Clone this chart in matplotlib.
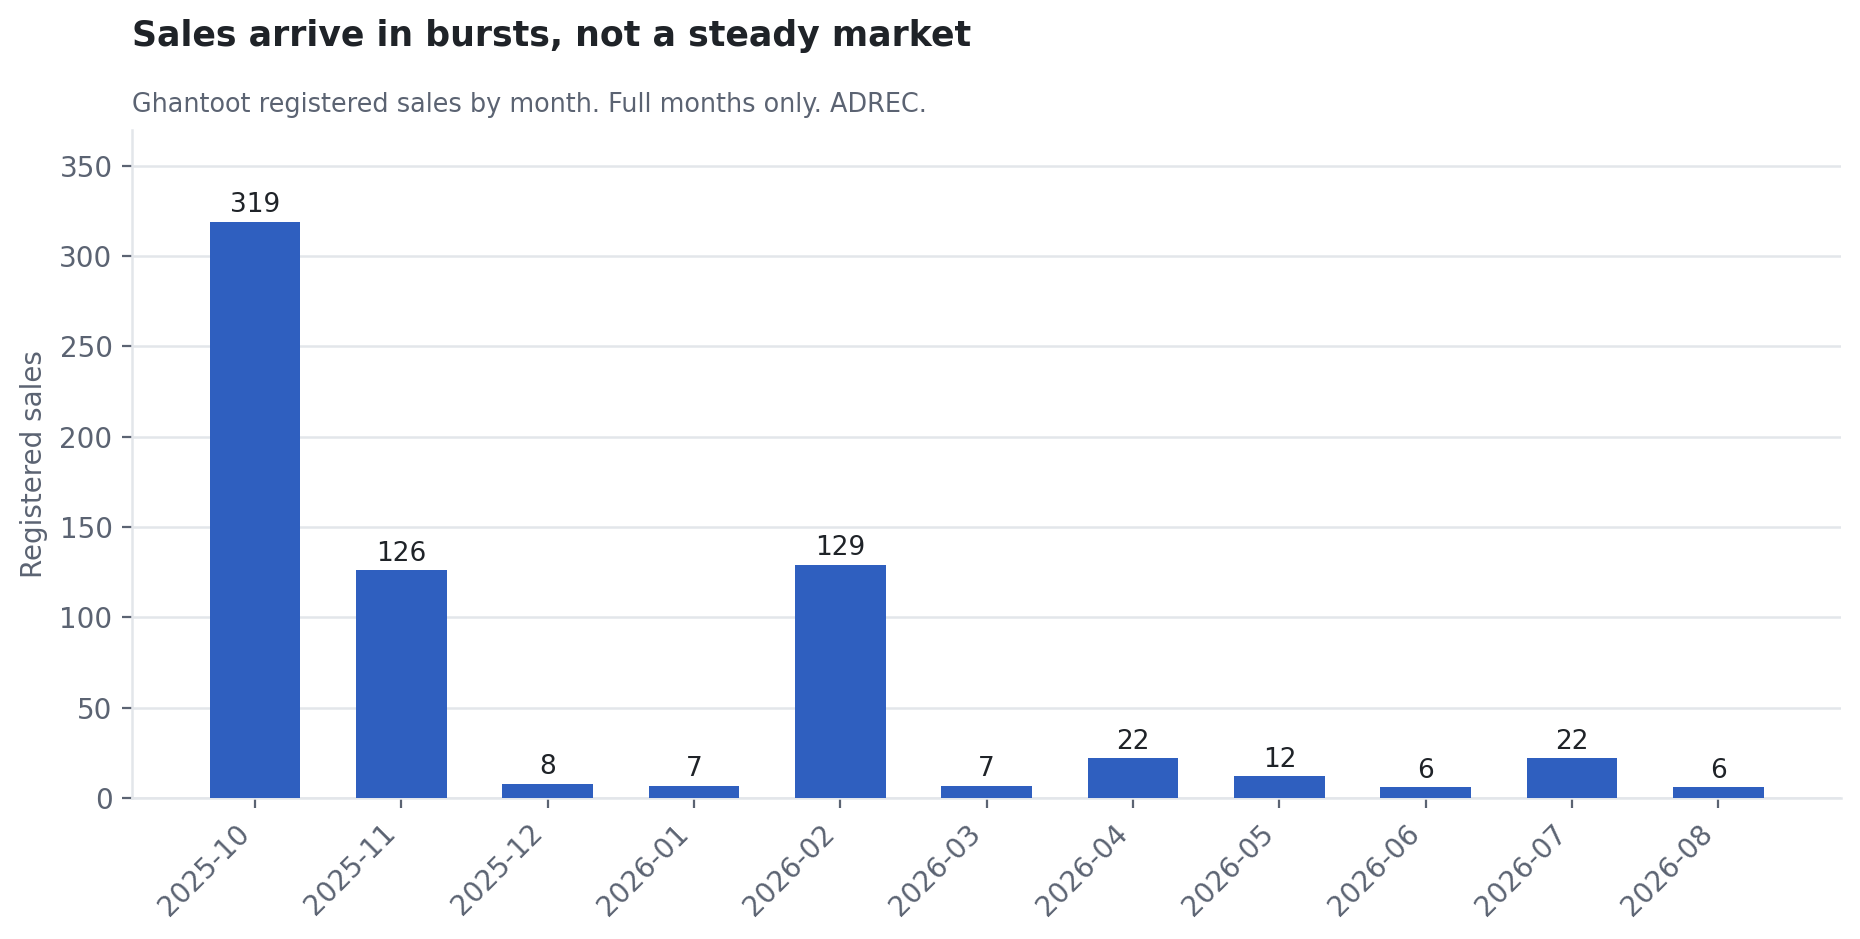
import matplotlib
matplotlib.use("Agg")
import matplotlib.pyplot as plt

months = [
    "2025-10", "2025-11", "2025-12", "2026-01", "2026-02", "2026-03",
    "2026-04", "2026-05", "2026-06", "2026-07", "2026-08",
]
sales = [319, 126, 8, 7, 129, 7, 22, 12, 6, 22, 6]
y_ticks = [0, 50, 100, 150, 200, 250, 300, 350]

BAR = "#2f5fbf"
INK = "#1f2328"
MUTED = "#5b6372"
GRID = "#e3e6ea"

plt.rcParams["font.family"] = ["DejaVu Sans"]

fig = plt.figure(figsize=(9.3, 4.695), dpi=200)
ax = fig.add_axes([0.071, 0.150, 0.919, 0.712])

x = list(range(len(months)))
ax.bar(x, sales, width=0.62, color=BAR, zorder=3)
for xi, v in zip(x, sales):
    ax.text(xi, v + 2, str(v), ha="center", va="bottom", fontsize=9.5, color=INK, zorder=4)

ax.set_ylim(0, 370)
ax.set_yticks(y_ticks)
ax.set_xticks(x)
ax.set_xticklabels(months, rotation=45, ha="right")
ax.tick_params(axis="both", colors=MUTED, labelsize=10, length=3.5, width=0.8)
ax.tick_params(axis="x", pad=4)
ax.set_ylabel("Registered sales", fontsize=10, color=MUTED)
ax.yaxis.grid(True, color=GRID, linewidth=0.9, zorder=0)
ax.set_axisbelow(True)
for side in ("top", "right"):
    ax.spines[side].set_visible(False)
for side in ("left", "bottom"):
    ax.spines[side].set_color(GRID)
    ax.spines[side].set_linewidth(0.9)

fig.text(0.071, 0.962, "Sales arrive in bursts, not a steady market",
         fontsize=12.5, fontweight="bold", color=INK, ha="left", va="center")
fig.text(0.071, 0.888, "Ghantoot registered sales by month. Full months only. ADREC.",
         fontsize=9.2, color=MUTED, ha="left", va="center")

fig.savefig("out.png", dpi=200, facecolor="white")
